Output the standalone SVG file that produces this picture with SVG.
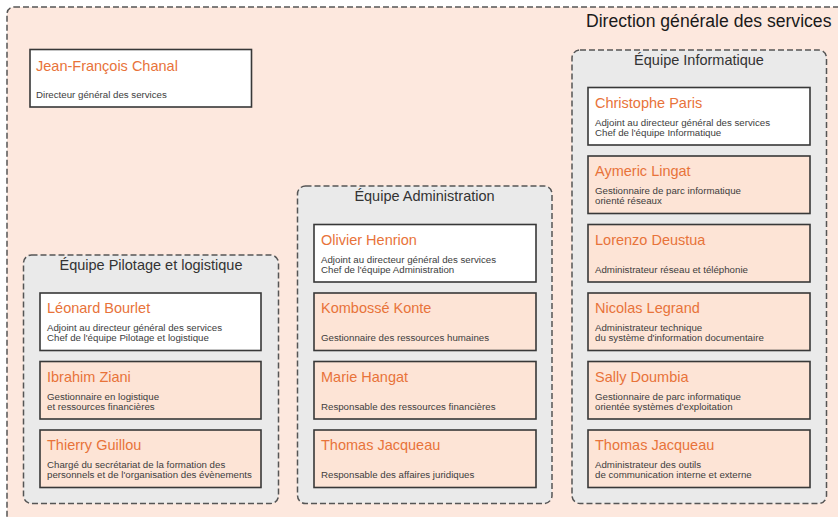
<svg xmlns="http://www.w3.org/2000/svg" width="838" height="517" viewBox="0 0 838 517">
<style>
.bg{fill:#ffffff}
.outer{fill:#fde8de;stroke:#555;stroke-width:1.5;stroke-dasharray:6 3}
.grp{fill:#eaeaea;stroke:#555;stroke-width:1.5;stroke-dasharray:6 3}
.card{fill:#fde4d6;stroke:#383838;stroke-width:1.6}
.lead{fill:#ffffff}
.title{font-family:"Liberation Sans",Arial,sans-serif;font-size:17.6px;fill:#1a1a1a}
.gt{font-family:"Liberation Sans",Arial,sans-serif;font-size:14.5px;fill:#333;text-anchor:middle}
.name{font-family:"Liberation Sans",Arial,sans-serif;font-size:14.5px;fill:#e8733a}
.desc{font-family:"Liberation Sans",Arial,sans-serif;font-size:9.7px;fill:#3d3d3d}
</style>
<rect class="bg" x="0" y="0" width="838" height="517"/>
<g id="direction">
<rect class="outer" x="7" y="7" width="845" height="525" rx="7"/>
<text class="title" x="586" y="27">Direction générale des services</text>
</g>
<g id="connectors"></g>
<g id="jf-chanal">
<rect class="card lead" x="30" y="49.5" width="221.5" height="57.5"/>
<text class="name" x="36" y="70.5">Jean-François Chanal</text>
<text class="desc" x="36" y="97.5">Directeur général des services</text>
</g>
<g id="equipe-pilotage">
<rect class="grp" x="23.5" y="255" width="255" height="248.5" rx="8"/>
<text class="gt" x="151" y="270">Équipe Pilotage et logistique</text>
</g>
<g id="leonard-bourlet">
<rect class="card lead" x="40" y="293" width="221" height="57.5"/>
<text class="name" x="47" y="313">Léonard Bourlet</text>
<text class="desc" x="47" y="331">Adjoint au directeur général des services</text>
<text class="desc" x="47" y="341.3">Chef de l'équipe Pilotage et logistique</text>
</g>
<g id="ibrahim-ziani">
<rect class="card" x="40" y="361.5" width="221" height="57.5"/>
<text class="name" x="47" y="381.5">Ibrahim Ziani</text>
<text class="desc" x="47" y="399.5">Gestionnaire en logistique</text>
<text class="desc" x="47" y="409.8">et ressources financières</text>
</g>
<g id="thierry-guillou">
<rect class="card" x="40" y="430" width="221" height="57.5"/>
<text class="name" x="47" y="450">Thierry Guillou</text>
<text class="desc" x="47" y="468">Chargé du secrétariat de la formation des</text>
<text class="desc" x="47" y="478.3">personnels et de l'organisation des évènements</text>
</g>
<g id="equipe-administration">
<rect class="grp" x="297.5" y="186" width="254.5" height="317.5" rx="8"/>
<text class="gt" x="424.5" y="201">Équipe Administration</text>
</g>
<g id="olivier-henrion">
<rect class="card lead" x="314" y="224.5" width="222" height="57.5"/>
<text class="name" x="321" y="244.5">Olivier Henrion</text>
<text class="desc" x="321" y="262.5">Adjoint au directeur général des services</text>
<text class="desc" x="321" y="272.8">Chef de l'équipe Administration</text>
</g>
<g id="kombosse-konte">
<rect class="card" x="314" y="293" width="222" height="57.5"/>
<text class="name" x="321" y="313">Kombossé Konte</text>
<text class="desc" x="321" y="341.3">Gestionnaire des ressources humaines</text>
</g>
<g id="marie-hangat">
<rect class="card" x="314" y="361.5" width="222" height="57.5"/>
<text class="name" x="321" y="381.5">Marie Hangat</text>
<text class="desc" x="321" y="409.8">Responsable des ressources financières</text>
</g>
<g id="thomas-jacqueau-admin">
<rect class="card" x="314" y="430" width="222" height="57.5"/>
<text class="name" x="321" y="450">Thomas Jacqueau</text>
<text class="desc" x="321" y="478.3">Responsable des affaires juridiques</text>
</g>
<g id="equipe-informatique">
<rect class="grp" x="572" y="50" width="254.5" height="453.5" rx="8"/>
<text class="gt" x="699" y="65">Équipe Informatique</text>
</g>
<g id="christophe-paris">
<rect class="card lead" x="588" y="87.5" width="222" height="57.5"/>
<text class="name" x="595" y="107.5">Christophe Paris</text>
<text class="desc" x="595" y="125.5">Adjoint au directeur général des services</text>
<text class="desc" x="595" y="135.8">Chef de l'équipe Informatique</text>
</g>
<g id="aymeric-lingat">
<rect class="card" x="588" y="156" width="222" height="57.5"/>
<text class="name" x="595" y="176">Aymeric Lingat</text>
<text class="desc" x="595" y="194">Gestionnaire de parc informatique</text>
<text class="desc" x="595" y="204.3">orienté réseaux</text>
</g>
<g id="lorenzo-deustua">
<rect class="card" x="588" y="224.5" width="222" height="57.5"/>
<text class="name" x="595" y="244.5">Lorenzo Deustua</text>
<text class="desc" x="595" y="272.8">Administrateur réseau et téléphonie</text>
</g>
<g id="nicolas-legrand">
<rect class="card" x="588" y="293" width="222" height="57.5"/>
<text class="name" x="595" y="313">Nicolas Legrand</text>
<text class="desc" x="595" y="331">Administrateur technique</text>
<text class="desc" x="595" y="341.3">du système d'information documentaire</text>
</g>
<g id="sally-doumbia">
<rect class="card" x="588" y="361.5" width="222" height="57.5"/>
<text class="name" x="595" y="381.5">Sally Doumbia</text>
<text class="desc" x="595" y="399.5">Gestionnaire de parc informatique</text>
<text class="desc" x="595" y="409.8">orientée systèmes d'exploitation</text>
</g>
<g id="thomas-jacqueau-info">
<rect class="card" x="588" y="430" width="222" height="57.5"/>
<text class="name" x="595" y="450">Thomas Jacqueau</text>
<text class="desc" x="595" y="468">Administrateur des outils</text>
<text class="desc" x="595" y="478.3">de communication interne et externe</text>
</g>
</svg>
